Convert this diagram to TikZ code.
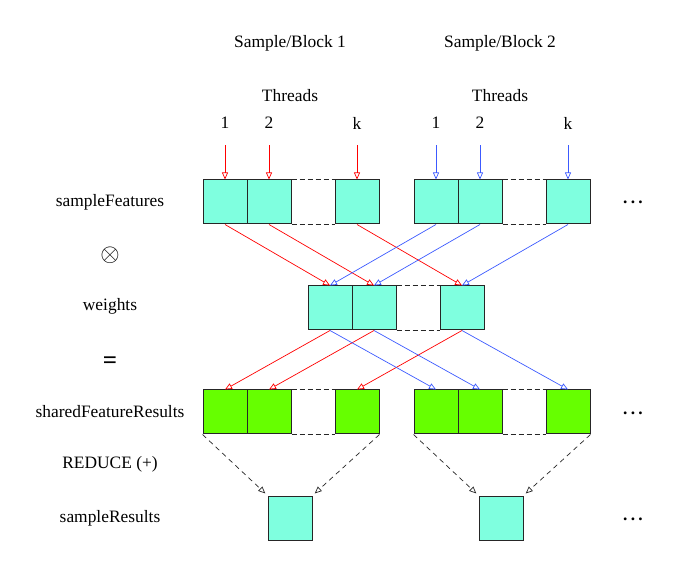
\documentclass[tikz,border=0pt]{standalone}
\usepackage{fontspec}
\setmainfont{Liberation Serif}
\usetikzlibrary{arrows.meta}
\definecolor{aqua}{RGB}{127,255,223}
\definecolor{lgreen}{RGB}{102,255,0}
\definecolor{tblue}{RGB}{60,90,255}
\begin{document}
\begin{tikzpicture}[x=1pt,y=-1pt,
  every node/.style={font=\fontsize{17.4}{20}\selectfont},
  cell/.style={draw=black!85,line width=1pt,minimum size=44pt,inner sep=0pt,anchor=center},
  fcell/.style={cell,fill=aqua},
  gcell/.style={cell,fill=lgreen},
  gapline/.style={draw=black!85,line width=1pt,dashed,dash pattern=on 5pt off 3pt},
  arr/.style={line width=0.7pt,-{Triangle[open,length=7pt,width=6pt]}},
  redarr/.style={arr,draw=red},
  bluearr/.style={arr,draw=tblue},
  redarrow/.style={arr,draw=black!85,dashed,dash pattern=on 5pt off 4pt,shorten >=3pt},
  dotsnode/.style={anchor=base,inner sep=0pt,font=\fontsize{17.4}{20}\selectfont\bfseries}
]
\useasboundingbox (0,0) rectangle (681,572);

% headings
\node (hb1) at (290,43) {Sample/Block 1};
\node (hb2) at (500,43) {Sample/Block 2};
\node (th1) at (290,96) {Threads};
\node (th2) at (500,96) {Threads};
\node (n11) at (225,123) {1};
\node (n12) at (269,123) {2};
\node (n1k) at (357,123) {k};
\node (n21) at (436,123) {1};
\node (n22) at (480,123) {2};
\node (n2k) at (568,123) {k};

% left labels
\node (lsf) at (110,202) {sampleFeatures};
\node (lot) at (110,255) {\fontsize{28}{30}\selectfont$\otimes$};
\node (lw) at (110,306) {weights};
\node (leq) at (110,363) {\fontsize{25}{28}\selectfont\bfseries =};
\node (lsh) at (110,412) {sharedFeatureResults};
\node (lred) at (110,464) {REDUCE (+)};
\node (lsr) at (110,518) {sampleResults};

% dots
\node[dotsnode] (d1) at (633,204) {.\hspace{3.3pt}.\hspace{3.3pt}.};
\node[dotsnode] (d2) at (633,414) {.\hspace{3.3pt}.\hspace{3.3pt}.};
\node[dotsnode] (d3) at (633,520) {.\hspace{3.3pt}.\hspace{3.3pt}.};

% sampleFeatures
\node[fcell] (f11) at (225,202) {};
\node[fcell] (f12) at (269,202) {};
\node[fcell] (f1k) at (357,202) {};
\node[fcell] (f21) at (436,202) {};
\node[fcell] (f22) at (480,202) {};
\node[fcell] (f2k) at (568,202) {};
% weights
\node[fcell] (w1) at (330,308) {};
\node[fcell] (w2) at (374,308) {};
\node[fcell] (wk) at (462,308) {};
% shared
\node[gcell] (s11) at (225,412) {};
\node[gcell] (s12) at (269,412) {};
\node[gcell] (s1k) at (357,412) {};
\node[gcell] (s21) at (436,412) {};
\node[gcell] (s22) at (480,412) {};
\node[gcell] (s2k) at (568,412) {};
% results
\node[fcell] (r1) at (290,518) {};
\node[fcell] (r2) at (501,518) {};

% dashed gaps
\foreach \a/\b in {f12/f1k,f22/f2k,w2/wk,s12/s1k,s22/s2k}{
  \draw[gapline] (\a.north east) -- (\b.north west);
  \draw[gapline] (\a.south east) -- (\b.south west);
}

% thread arrows
\foreach \n in {11,12,1k}{
  \coordinate (t\n) at ([yshift=34pt]f\n.north);
  \draw[redarr] (t\n) -- (f\n.north);
}
\foreach \n in {21,22,2k}{
  \coordinate (t\n) at ([yshift=34pt]f\n.north);
  \draw[bluearr] (t\n) -- (f\n.north);
}

% features -> weights
\draw[redarr] (f11.south) -- (w1.north);
\draw[redarr] (f12.south) -- (w2.north);
\draw[redarr] (f1k.south) -- (wk.north);
\draw[bluearr] (f21.south) -- (w1.north);
\draw[bluearr] (f22.south) -- (w2.north);
\draw[bluearr] (f2k.south) -- (wk.north);

% weights -> shared
\draw[redarr] (w1.south) -- (s11.north);
\draw[redarr] (w2.south) -- (s12.north);
\draw[redarr] (wk.south) -- (s1k.north);
\draw[bluearr] (w1.south) -- (s21.north);
\draw[bluearr] (w2.south) -- (s22.north);
\draw[bluearr] (wk.south) -- (s2k.north);

% reduce
\draw[redarrow] (s11.south west) -- (r1.north west);
\draw[redarrow] (s1k.south east) -- (r1.north east);
\draw[redarrow] (s21.south west) -- (r2.north west);
\draw[redarrow] (s2k.south east) -- (r2.north east);
\end{tikzpicture}
\end{document}
